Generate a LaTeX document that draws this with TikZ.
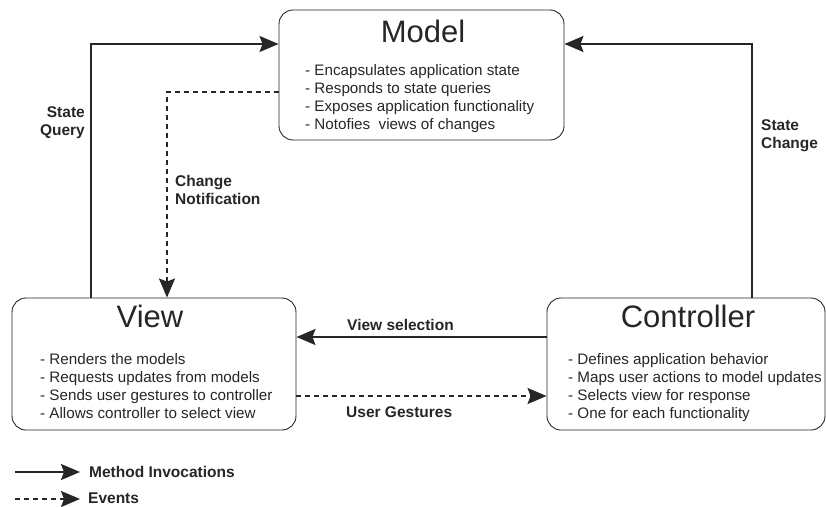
\documentclass[tikz,border=0pt]{standalone}
\usepackage{fontspec}
\setmainfont{Liberation Sans}
\usetikzlibrary{arrows.meta}
\begin{document}
\begin{tikzpicture}[x=1pt,y=-1pt,
  box/.style={draw=black!85, line width=0.9pt, rounded corners=14pt, inner sep=0pt},
  title/.style={anchor=base, font=\fontsize{31}{31}\selectfont, text=black!85, inner sep=0pt},
  body/.style={anchor=base west, align=left, font=\fontsize{15.2}{17.7}\selectfont, text=black!85, inner sep=0pt},
  lbl/.style={font=\bfseries\fontsize{15.5}{17.5}\selectfont, text=black!85, inner sep=0pt},
  inv/.style={draw=black!85, line width=2pt, -{Stealth[length=19pt,width=16pt,inset=3pt]}},
  evt/.style={draw=black!85, line width=2pt, dash pattern=on 5pt off 4pt, -{Stealth[length=19pt,width=16pt,inset=3pt]}}]
\useasboundingbox (0,0) rectangle (826,506);
% boxes
\node[box, minimum width=285pt, minimum height=130pt] (model) at (421.5,75) {};
\node[box, minimum width=284pt, minimum height=132pt] (view) at (154,364) {};
\node[box, minimum width=278pt, minimum height=132pt] (controller) at (686,364) {};
% texts (base = last line's baseline)
\node[title] (mt) at (423,42) {Model};
\node[body] (mb) at (305,129) {- Encapsulates application state\\- Responds to state queries\\- Exposes application functionality\\- Notofies\ \ views of changes};
\node[title] (vt) at (150,327) {View};
\node[body] (vb) at (40,418) {- Renders the models\\- Requests updates from models\\- Sends user gestures to controller\\- Allows controller to select view};
\node[title] (ct) at (688,327) {Controller};
\node[body] (cb) at (568,418) {- Defines application behavior\\- Maps user actions to model updates\\- Selects view for response\\- One for each functionality};
% connector coordinates
\coordinate (sq) at (91,44);
\coordinate (cn) at (167,92);
\coordinate (sc) at (752,44);
\coordinate (vs) at (0,337);
\coordinate (ug) at (0,396);
\draw[inv] (sq |- view.north) -- (sq) -- (sq -| model.west);
\draw[evt] (cn -| model.west) -- (cn) -- (cn |- view.north);
\draw[inv] (sc |- controller.north) -- (sc) -- (sc -| model.east);
\draw[inv] (vs -| controller.west) -- (vs -| view.east);
\draw[evt] (ug -| view.east) -- (ug -| controller.west);
% labels
\node[lbl, anchor=base east, align=right] (lsq) at (85,135) {State\\Query};
\node[lbl, anchor=base west, align=left] (lcn) at (175,204) {Change\\Notification};
\node[lbl, anchor=base west, align=left] (lsc) at (761,148) {State\\Change};
\node[lbl, anchor=base west] (lvs) at (347,330) {View selection};
\node[lbl, anchor=base west] (lug) at (346,417) {User Gestures};
% legend
\coordinate (l1a) at (15,472);
\coordinate (l1b) at (80,472);
\coordinate (l2a) at (15,499);
\coordinate (l2b) at (80,499);
\draw[inv] (l1a) -- (l1b);
\draw[evt] (l2a) -- (l2b);
\node[lbl, anchor=base west] (lmi) at (89,477) {Method Invocations};
\node[lbl, anchor=base west] (lev) at (88,503) {Events};
\end{tikzpicture}
\end{document}
